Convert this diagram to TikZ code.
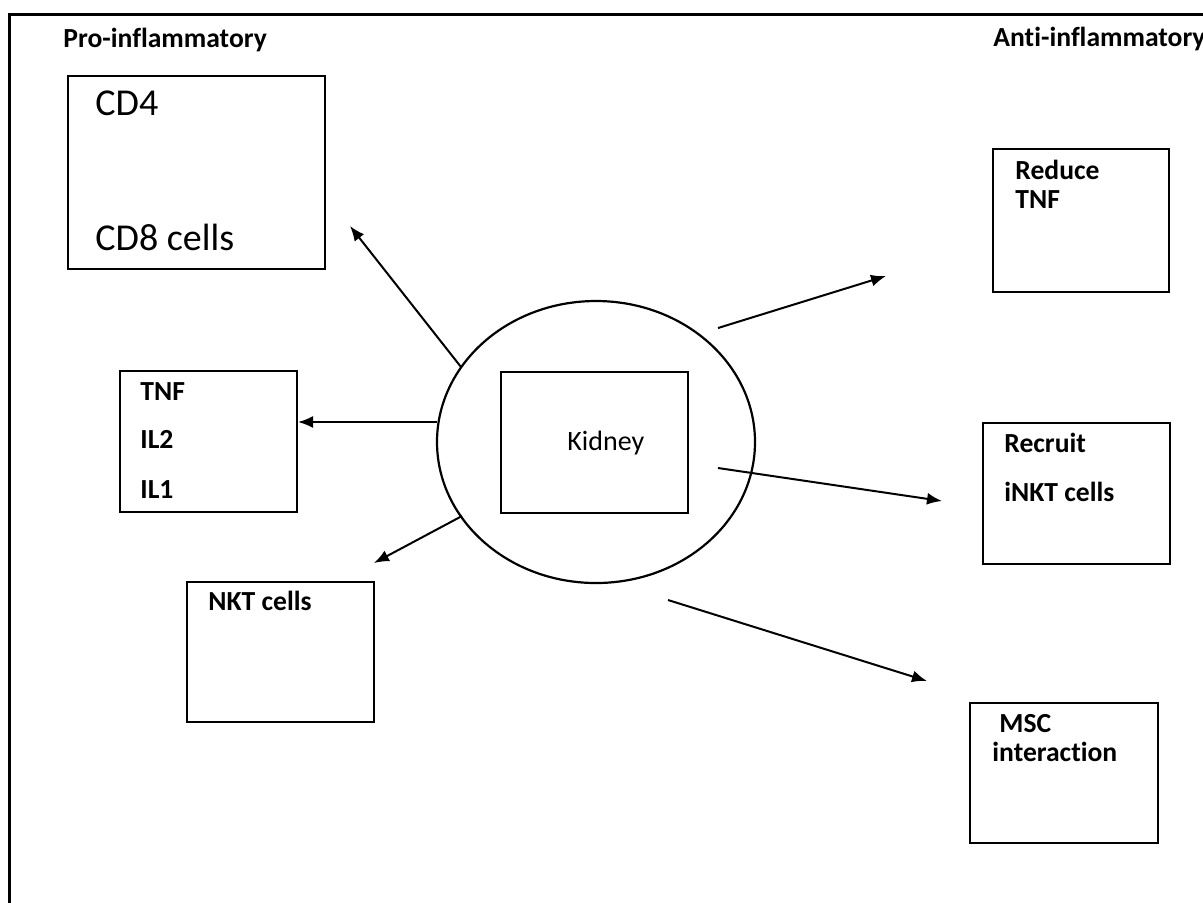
\documentclass[tikz,border=0pt]{standalone}
\usepackage{fontspec}
\setmainfont[RawFeature={-liga}]{Carlito}
\usetikzlibrary{arrows.meta,shapes.geometric}
\begin{document}
\begin{tikzpicture}[x=0.5pt,y=-0.5pt,
  box/.style={draw,line width=1.2pt,rectangle,inner sep=0pt},
  lbl/.style={anchor=base west,inner sep=0pt,font=\fontsize{13.8pt}{16pt}\selectfont\bfseries},
  biglbl/.style={anchor=base west,inner sep=0pt,font=\fontsize{19pt}{22pt}\selectfont},
  arr/.style={line width=1pt,-{Latex[length=7.5pt,width=6pt]}},
  frame/.style={line width=1.5pt}]
\clip (0,0) rectangle (1203,902);
% outer frame
\draw[frame] (9,910) -- (9,14) -- (1210,14);
% headings
\node[lbl] (pro) at (63,47) {Pro-inflammatory};
\node[lbl] (anti) at (993,46) {Anti-inflammatory};
% boxes
\node[box,minimum width=128.5pt,minimum height=96.5pt] (cdbox) at (196.5,172.5) {};
\node[box,minimum width=88pt,minimum height=71.5pt] (redbox) at (1081,220.5) {};
\node[box,minimum width=88.5pt,minimum height=70.5pt] (tnfbox) at (208.5,441.5) {};
\node[box,minimum width=93.5pt,minimum height=70pt] (nktbox) at (280.5,652) {};
\node[draw,line width=1.1pt,ellipse,inner sep=0pt,minimum width=159pt,minimum height=141pt] (kid) at (596,442) {};
\node[box,minimum width=93.5pt,minimum height=70.5pt] (kidbox) at (594.5,442.5) {};
\node[box,minimum width=93.5pt,minimum height=70.5pt] (recbox) at (1076.5,493.5) {};
\node[box,minimum width=94pt,minimum height=70pt] (mscbox) at (1064,773) {};
% texts
\node[biglbl] (cd4) at (95,115) {CD4};
\node[biglbl] (cd8) at (95,250) {CD8 cells};
\node[lbl] (reduce) at (1015,179) {Reduce};
\node[lbl] (rtnf) at (1015,208) {TNF};
\node[lbl] (tnf) at (140,400) {TNF};
\node[lbl] (il2) at (140,448) {IL2};
\node[lbl] (il1) at (140,498) {IL1};
\node[lbl] (nkt) at (208,610) {NKT cells};
\node[anchor=base west,inner sep=0pt,font=\fontsize{14pt}{16pt}\selectfont] (kidney) at (567,450) {Kidney};
\node[lbl] (recruit) at (1004,452) {Recruit};
\node[lbl] (inkt) at (1004,501) {iNKT cells};
\node[lbl] (msc) at (999,732) {MSC};
\node[lbl] (inter) at (992,761) {interaction};
% arrow end points
\coordinate (a1s) at (461,367);
\coordinate (a1e) at (350,226);
\coordinate (a2s) at (437,422);
\coordinate (a2e) at (298,422);
\coordinate (a3s) at (462,516);
\coordinate (a3e) at (374,563);
\coordinate (a4s) at (718,328);
\coordinate (a4e) at (886,276);
\coordinate (a5s) at (718,468);
\coordinate (a5e) at (942,501);
\coordinate (a6s) at (668,600);
\coordinate (a6e) at (927,681);
\draw[arr] (a1s) -- (a1e);
\draw[arr] (a2s) -- (a2e);
\draw[arr] (a3s) -- (a3e);
\draw[arr] (a4s) -- (a4e);
\draw[arr] (a5s) -- (a5e);
\draw[arr] (a6s) -- (a6e);
\end{tikzpicture}
\end{document}
